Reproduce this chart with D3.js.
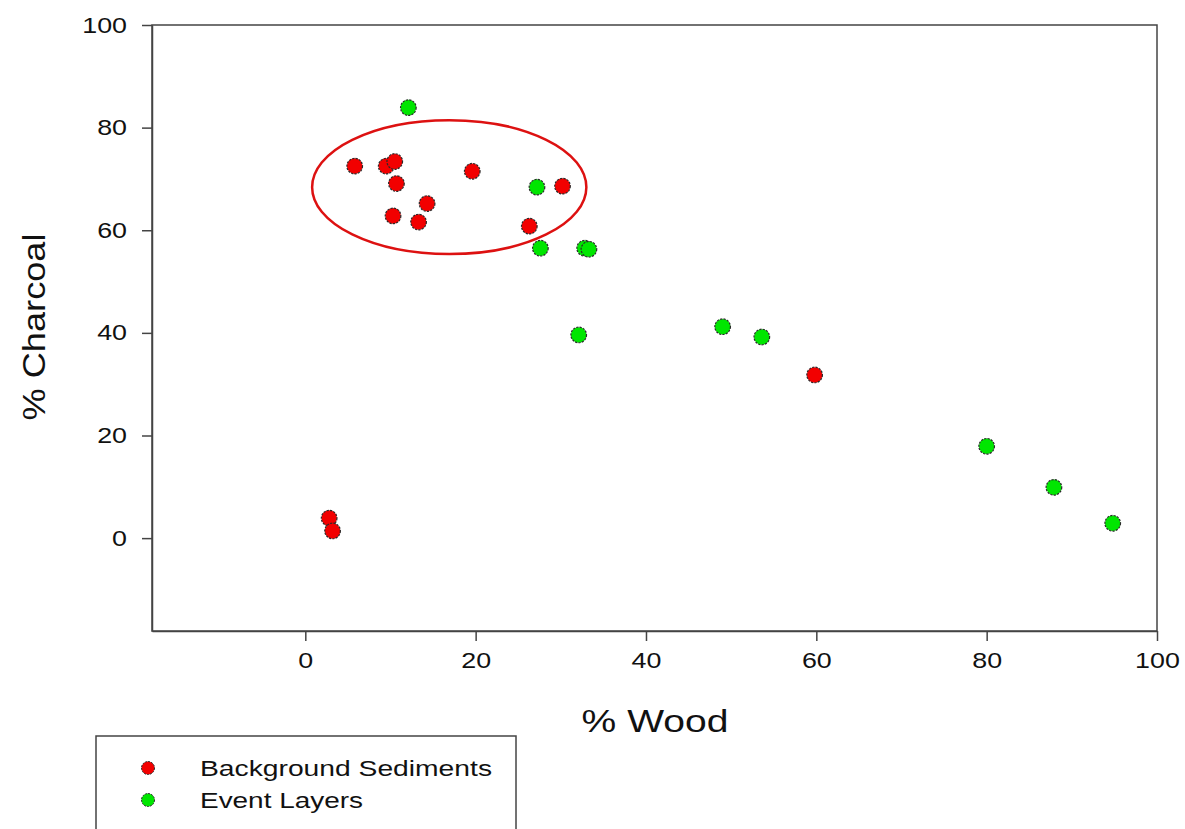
<!DOCTYPE html>
<html>
<head>
<meta charset="utf-8">
<script src="https://cdn.jsdelivr.net/npm/d3@7"></script>
<style>
  body { margin: 0; background: #fff; }
  svg { display: block; font-family: "Liberation Sans", Arial, sans-serif; }
</style>
</head>
<body>
<svg id="chart" width="1185" height="829"></svg>
<script>
// Background sediments
var bgWood     = [5.8, 9.5, 10.5, 10.7, 10.3, 14.3, 13.3, 19.6, 26.3, 30.2, 2.8, 3.2, 59.8];
var bgCharcoal = [72.5, 72.5, 73.4, 69.1, 62.8, 65.2, 61.6, 71.5, 60.8, 68.6, 3.9, 1.4, 31.8];
// Event layers
var evWood     = [12.1, 27.2, 27.6, 32.8, 33.3, 32.1, 49.0, 53.6, 80.0, 87.9, 94.8];
var evCharcoal = [83.9, 68.4, 56.5, 56.5, 56.3, 39.6, 41.2, 39.2, 17.9, 9.9, 2.9];

var xTicks = [0, 20, 40, 60, 80, 100];
var yTicks = [0, 20, 40, 60, 80, 100];
var series = ["Background Sediments", "Event Layers"];
var seriesColors = ["#f20000", "#00e600"];
// highlighted cluster: centre and radii in data units
var cluster = {cx: 16.9, cy: 68.4, rx: 16.1, ry: 13.05};

var svg = d3.select("#chart");
var plotLeft = 152, plotRight = 1157, plotTop = 25, plotBottom = 631;
var stretch = 1.22; // the original text is a bit wide

var x = d3.scaleLinear().domain([-18, 100]).range([plotLeft, plotRight]);
var y = d3.scaleLinear().domain([-18.1, 100]).range([plotBottom, plotTop]);

function widen(sel) {
  sel.each(function () {
    var w = this.getComputedTextLength();
    d3.select(this).attr("textLength", w * stretch).attr("lengthAdjust", "spacingAndGlyphs");
  });
}

// frame
svg.append("rect")
  .attr("x", plotLeft).attr("y", plotTop)
  .attr("width", plotRight - plotLeft).attr("height", plotBottom - plotTop)
  .attr("fill", "none").attr("stroke", "#444").attr("stroke-width", 1.5);

var xAxis = svg.append("g")
  .attr("transform", "translate(0," + plotBottom + ")")
  .call(d3.axisBottom(x).tickValues(xTicks).tickSize(10).tickSizeOuter(0).tickPadding(11).tickFormat(d3.format("d")));
var yAxis = svg.append("g")
  .attr("transform", "translate(" + plotLeft + ",0)")
  .call(d3.axisLeft(y).tickValues(yTicks).tickSize(10).tickSizeOuter(0).tickPadding(15).tickFormat(d3.format("d")));

[xAxis, yAxis].forEach(function (a) {
  a.select(".domain").attr("stroke", "#444").attr("stroke-width", 1.5);
  a.selectAll(".tick line").attr("stroke", "#444").attr("stroke-width", 1.5);
  a.selectAll(".tick text").attr("font-size", 22).attr("fill", "#111")
    .attr("font-family", "Liberation Sans, Arial, sans-serif");
});
widen(xAxis.selectAll(".tick text"));
widen(yAxis.selectAll(".tick text"));

// axis titles
svg.append("text")
  .attr("x", 655).attr("y", 732)
  .attr("text-anchor", "middle").attr("font-size", 32).attr("fill", "#111")
  .text("% Wood")
  .call(widen);

svg.append("text")
  .attr("transform", "translate(45,327) rotate(-90)")
  .attr("text-anchor", "middle").attr("font-size", 31).attr("fill", "#111")
  .text("% Charcoal")
  .attr("textLength", 187).attr("lengthAdjust", "spacingAndGlyphs");

// cluster ellipse
svg.append("ellipse")
  .attr("cx", x(cluster.cx)).attr("cy", y(cluster.cy))
  .attr("rx", x(cluster.rx) - x(0)).attr("ry", y(0) - y(cluster.ry))
  .attr("fill", "none").attr("stroke", "#dd1111").attr("stroke-width", 2.5);

function drawPoints(wood, charcoal, color) {
  svg.append("g").selectAll("circle")
    .data(d3.zip(wood, charcoal))
    .join("circle")
    .attr("cx", function (d) { return x(d[0]); })
    .attr("cy", function (d) { return y(d[1]); })
    .attr("r", 7.8)
    .attr("fill", color)
    .attr("stroke", "#2a2a2a")
    .attr("stroke-width", 1.2)
    .attr("stroke-dasharray", "2.2,1.2");
}
drawPoints(bgWood, bgCharcoal, seriesColors[0]);
drawPoints(evWood, evCharcoal, seriesColors[1]);

// legend
var legend = svg.append("g");
legend.append("rect")
  .attr("x", 96).attr("y", 736).attr("width", 420).attr("height", 120)
  .attr("fill", "none").attr("stroke", "#444").attr("stroke-width", 1.5);
var legendWidths = [292, 163];
series.forEach(function (s, i) {
  var ly = 768 + i * 32;
  legend.append("circle")
    .attr("cx", 148).attr("cy", ly).attr("r", 6.5)
    .attr("fill", seriesColors[i]).attr("stroke", "#2a2a2a").attr("stroke-width", 1)
    .attr("stroke-dasharray", "2,1");
  legend.append("text")
    .attr("x", 200).attr("y", ly + 8)
    .attr("font-size", 22).attr("fill", "#111")
    .attr("textLength", legendWidths[i]).attr("lengthAdjust", "spacingAndGlyphs")
    .text(s);
});
</script>
</body>
</html>
